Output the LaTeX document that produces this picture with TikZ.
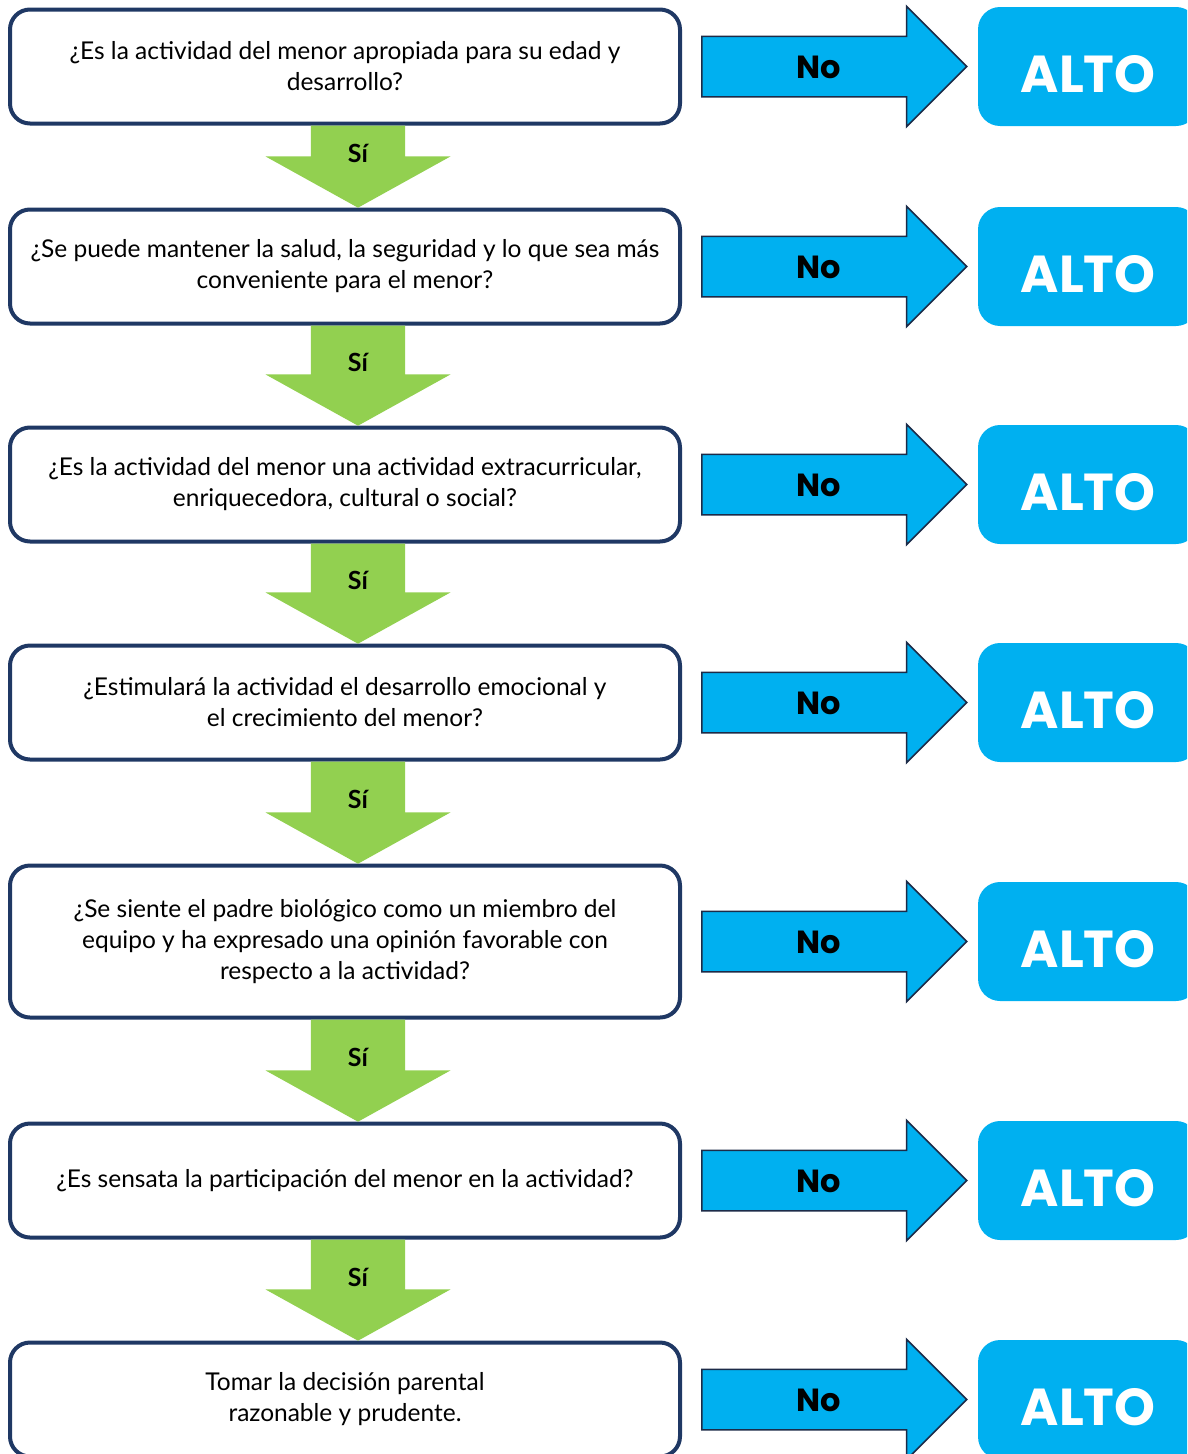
\documentclass[tikz,border=0pt]{standalone}
\usepackage{fontspec}
\setmainfont{Lato}
\newfontfamily\poppins{Poppins}
\usetikzlibrary{positioning,shapes.arrows}
\definecolor{navy}{HTML}{1F3864}
\definecolor{altoblue}{HTML}{00B0F0}
\definecolor{sigreen}{HTML}{92D050}
\definecolor{arrowline}{HTML}{1C2B48}

\begin{document}
\begin{tikzpicture}[x=1pt,y=-1pt,
question/.style = {rectangle, rounded corners=20pt, draw=navy, line width=4pt, fill=white,
                   minimum width=670pt, minimum height=114pt, align=center,
                   font=\fontsize{24.5}{31}\selectfont},
stopbox/.style = {rectangle, rounded corners=22pt, fill=altoblue, minimum width=220pt,
                  minimum height=119pt, text=white, text height=52pt, text depth=0pt,
                  font=\poppins\bfseries\fontsize{52}{60}\selectfont},
noarrow/.style = {single arrow, draw=arrowline, line width=1.5pt, fill=altoblue,
                  minimum height=265pt, minimum width=119pt, single arrow head extend=30pt,
                  inner xsep=2pt, inner ysep=16pt, text height=25pt, text depth=2pt,
                  font=\poppins\bfseries\fontsize{32}{36}\selectfont},
siarrow/.style = {single arrow, shape border rotate=270, fill=sigreen, minimum width=185pt,
                  single arrow head extend=45pt, single arrow tip angle=122, inner sep=2pt,
                  text width=89pt, align=center, anchor=tail,
                  font=\bfseries\fontsize{25}{30}\selectfont}]

\clip (0,0) rectangle (1187,1454);

\node [question] (q1) at (345,66.5) {¿Es la actividad del menor apropiada para su edad y\\ desarrollo?};
\node [question, below=82pt of q1] (q2) {¿Se puede mantener la salud, la seguridad y lo que sea más\\ conveniente para el menor?};
\node [question, below=100pt of q2] (q3) {¿Es la actividad del menor una actividad extracurricular,\\ enriquecedora, cultural o social?};
\node [question, below=100pt of q3] (q4) {¿Estimulará la actividad el desarrollo emocional y\\ el crecimiento del menor?};
\node [question, below=102pt of q4, minimum height=152pt] (q5) {¿Se siente el padre biológico como un miembro del\\ equipo y ha expresado una opinión favorable con\\ respecto a la actividad?};
\node [question, below=102pt of q5] (q6) {¿Es sensata la participación del menor en la actividad?};
\node [question, below=101pt of q6] (q7) {Tomar la decisión parental\\ razonable y prudente.};

\node [siarrow, minimum height=82pt] (s1) at ([xshift=13pt]q1.south) {Sí};
\node [siarrow, minimum height=100pt] (s2) at ([xshift=13pt]q2.south) {Sí};
\node [siarrow, minimum height=100pt] (s3) at ([xshift=13pt]q3.south) {Sí};
\node [siarrow, minimum height=102pt] (s4) at ([xshift=13pt]q4.south) {Sí};
\node [siarrow, minimum height=102pt] (s5) at ([xshift=13pt]q5.south) {Sí};
\node [siarrow, minimum height=101pt] (s6) at ([xshift=13pt]q6.south) {Sí};

\node [noarrow, right=19pt of q1] (n1) {No};
\node [noarrow, right=19pt of q2] (n2) {No};
\node [noarrow, right=19pt of q3] (n3) {No};
\node [noarrow, right=19pt of q4] (n4) {No};
\node [noarrow, right=19pt of q5] (n5) {No};
\node [noarrow, right=19pt of q6] (n6) {No};
\node [noarrow, right=19pt of q7] (n7) {No};

\node [stopbox, right=10pt of n1] (a1) {ALTO};
\node [stopbox, right=10pt of n2] (a2) {ALTO};
\node [stopbox, right=10pt of n3] (a3) {ALTO};
\node [stopbox, right=10pt of n4] (a4) {ALTO};
\node [stopbox, right=10pt of n5] (a5) {ALTO};
\node [stopbox, right=10pt of n6] (a6) {ALTO};
\node [stopbox, right=10pt of n7] (a7) {ALTO};
\end{tikzpicture}
\end{document}
